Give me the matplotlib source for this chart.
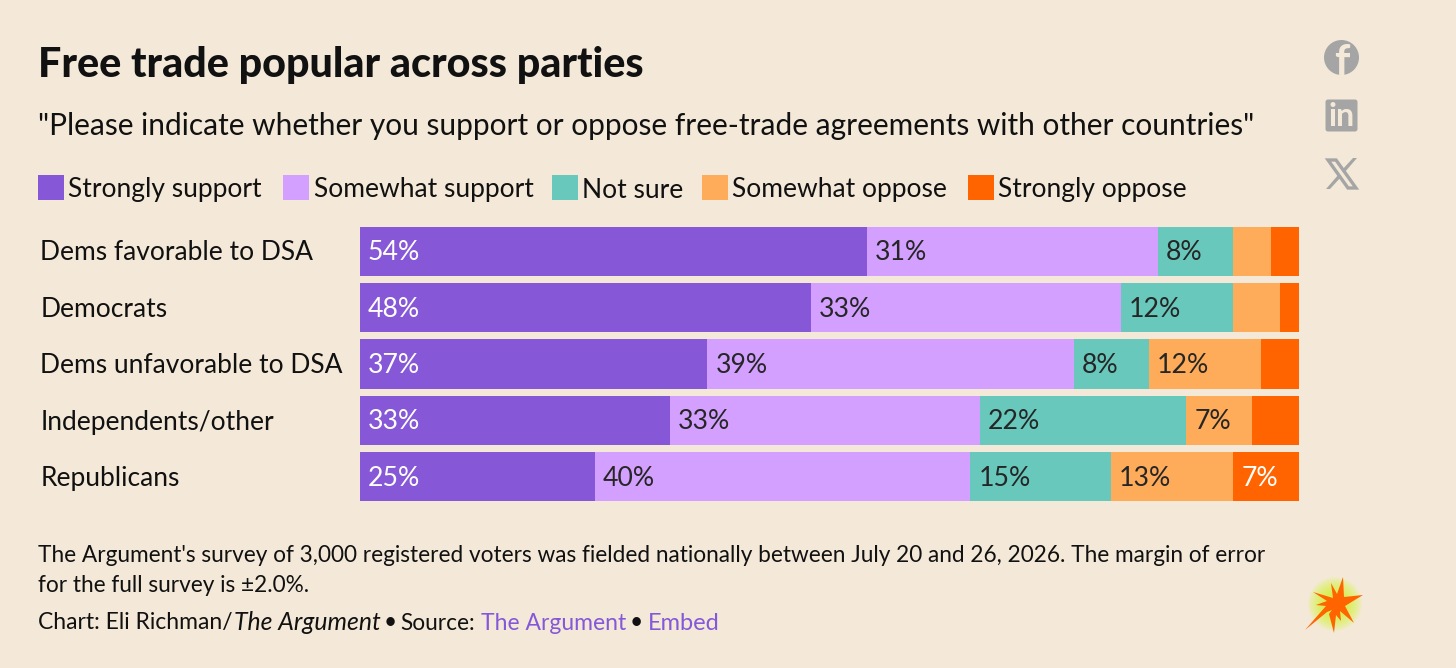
import matplotlib
matplotlib.use("Agg")
import matplotlib.pyplot as plt
from matplotlib.patches import Circle, FancyBboxPatch, Polygon, Rectangle
import numpy as np

categories = ["Dems favorable to DSA", "Democrats", "Dems unfavorable to DSA", "Independents/other", "Republicans"]
series_names = ["Strongly support", "Somewhat support", "Not sure", "Somewhat oppose", "Strongly oppose"]
strongly_support = [54, 48, 37, 33, 25]
somewhat_support = [31, 33, 39, 33, 40]
not_sure = [8, 12, 8, 22, 15]
somewhat_oppose = [4, 5, 12, 7, 13]
strongly_oppose = [3, 2, 4, 5, 7]
series = [strongly_support, somewhat_support, not_sure, somewhat_oppose, strongly_oppose]
colors = ["#8658d8", "#d4a0ff", "#68c8bc", "#ffac5a", "#ff6400"]
label_colors = ["white", "#262626", "#262626", "#262626", "white"]
min_labeled = 6

BG = "#f4e9d8"
INK = "#111111"
LINK = "#8458d8"
ICON = "#a5a5a5"
W, H = 1456, 668

plt.rcParams["font.family"] = ["Lato", "DejaVu Sans"]

fig = plt.figure(figsize=(W / 100, H / 100), dpi=100, facecolor=BG)

# page layer in pixel coordinates
page = fig.add_axes([0, 0, 1, 1])
page.set_xlim(0, W)
page.set_ylim(H, 0)
page.axis("off")

# bars
ax = fig.add_axes([360 / W, 1 - 505 / H, 939 / W, (505 - 223) / H])
ax.set_xlim(0, 100)
ax.set_ylim(4.5, -0.5)
ax.axis("off")
left = np.zeros(len(categories))
for vals, col, tcol in zip(series, colors, label_colors):
    vals = np.array(vals, dtype=float)
    ax.barh(range(len(categories)), vals, left=left, height=0.872, color=col, linewidth=0)
    for i, v in enumerate(vals):
        if v >= min_labeled:
            ax.text(left[i] + 0.85, i + 0.025, "%d%%" % v, color=tcol, fontsize=19.2, va="center", ha="left")
    left += vals

# category labels
for i, cat in enumerate(categories):
    page.text(40.5, 253 + i * 56.4, cat, fontsize=19, color=INK, va="center", ha="left")

# title and subtitle
page.text(38, 65, "Free trade popular across parties", fontsize=29.7, fontweight="black", color=INK, va="center")
page.text(38, 126, "\"Please indicate whether you support or oppose free-trade agreements with other countries\"",
          fontsize=21.5, color=INK, va="center")

# legend
legend_x = [38, 283, 552, 702, 968]
for x, name, col in zip(legend_x, series_names, colors):
    page.add_patch(Rectangle((x, 175), 25.5, 25, color=col, linewidth=0))
    page.text(x + 30.5, 190, name, fontsize=19, color=INK, va="center")

# footnote
page.text(38, 556, "The Argument's survey of 3,000 registered voters was fielded nationally between July 20 and 26, 2026. The margin of error",
          fontsize=16.25, color=INK, va="center")
page.text(38, 585, "for the full survey is \u00b12.0%.", fontsize=16.25, color=INK, va="center")

# credit line pieces
credit = [(38, "Chart: Eli Richman/", INK, "normal", 16.5), (234, "The Argument", INK, "italic", 17.8),
          (384, "\u2022", INK, "normal", 16.3), (400, "Source:", INK, "normal", 16.3),
          (481, "The Argument", LINK, "normal", 16.5), (630, "\u2022", INK, "normal", 16.5),
          (648, "Embed", LINK, "normal", 17)]
for x, txt, col, style, size in credit:
    page.text(x, 623, txt, fontsize=size, color=col, style=style, va="center")

# share icons
fb = Circle((1341.5, 57.5), 17.5, color=ICON, linewidth=0)
page.add_patch(fb)
f_mark = page.text(1342, 63, "f", fontsize=31, fontweight="bold", color=BG, ha="center", va="center")
f_mark.set_clip_path(fb)
page.add_patch(FancyBboxPatch((1325.5, 99.5), 32, 32, boxstyle="round,pad=0,rounding_size=2.5", color=ICON, linewidth=0))
page.text(1341.5, 116, "in", fontsize=23, fontweight="bold", color=BG, ha="center", va="center")
page.add_patch(Polygon([(1328, 160), (1336, 160), (1356, 188), (1348, 188)], closed=True, fill=False, edgecolor=ICON, linewidth=2.4))
page.add_patch(Polygon([(1353, 158), (1357, 158), (1344, 173), (1342, 170)], closed=True, color=ICON, linewidth=0))
page.add_patch(Polygon([(1326, 189), (1330, 189), (1341, 177), (1339, 174)], closed=True, color=ICON, linewidth=0))

# burst logo with a soft glow
for r in np.linspace(27, 8, 14):
    page.add_patch(Circle((1335, 604), r, color="#d4f62e", alpha=0.11, linewidth=0))
burst = [(1305, 630), (1326, 606), (1316, 605), (1327, 601), (1313, 592), (1333, 598), (1331, 583), (1337, 594),
         (1343, 577), (1344, 597), (1363, 595), (1345, 606), (1354, 623), (1340, 611), (1341, 621), (1336, 615),
         (1334, 633), (1329, 614), (1332, 610), (1327, 612)]
page.add_patch(Polygon(burst, closed=True, color="#ff6400", linewidth=0, zorder=3))

fig.savefig("out.png", dpi=100, facecolor=BG)
